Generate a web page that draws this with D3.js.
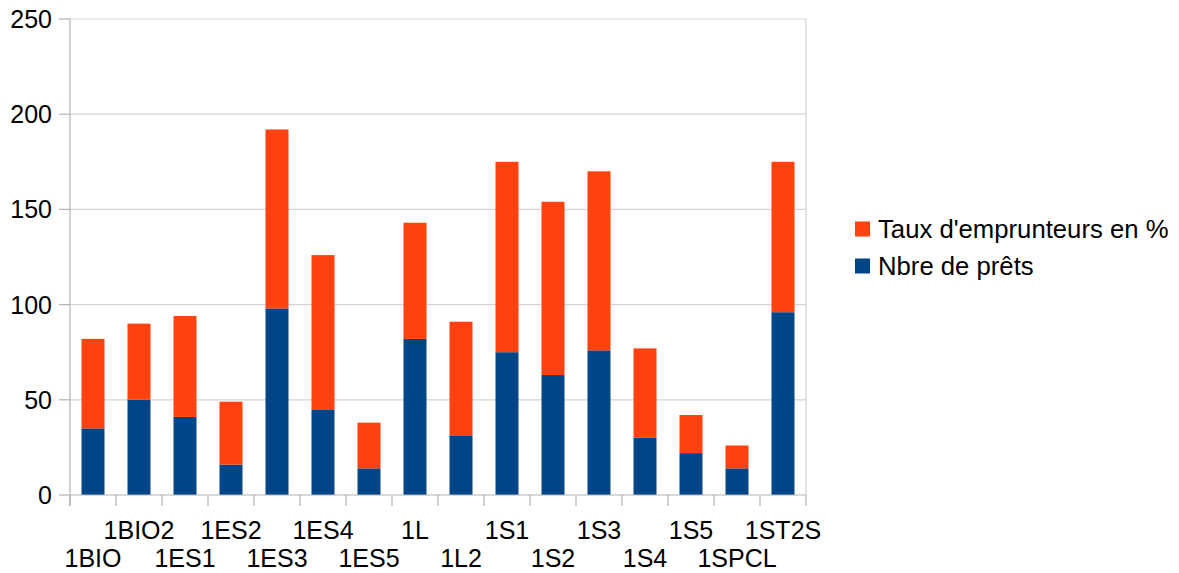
<!DOCTYPE html>
<html>
<head>
<meta charset="utf-8">
<script src="https://cdn.jsdelivr.net/npm/d3@7"></script>
<style>
  body { margin: 0; background: #fff; }
  svg { font-family: "Liberation Sans", Arial, sans-serif; }
</style>
</head>
<body>
<svg id="chart" width="1179" height="573"></svg>
<script>
const categories = ["1BIO", "1BIO2", "1ES1", "1ES2", "1ES3", "1ES4", "1ES5", "1L",
  "1L2", "1S1", "1S2", "1S3", "1S4", "1S5", "1SPCL", "1ST2S"];
const nbrePrets = [35, 50, 41, 16, 98, 45, 14, 82, 31, 75, 63, 76, 30, 22, 14, 96];
const tauxEmprunteurs = [47, 40, 53, 33, 94, 81, 24, 61, 60, 100, 91, 94, 47, 20, 12, 79];
const yTicks = [0, 50, 100, 150, 200, 250];
const seriesNames = ["Taux d'emprunteurs en %", "Nbre de prêts"];

const blue = "#004586", orange = "#ff420e";
const axisColor = "#b3b3b3", gridColor = "#d4d4d4";

const svg = d3.select("#chart");
const plotL = 70, plotR = 806, plotT = 19, plotB = 495;
const fontSize = 25;

const x = d3.scaleBand().domain(categories).range([plotL, plotR]);
const y = d3.scaleLinear().domain([0, 250]).range([plotB, plotT]);

// gridlines
svg.append("g").selectAll("line")
  .data(yTicks.filter(d => d > 0))
  .join("line")
  .attr("x1", plotL).attr("x2", plotR)
  .attr("y1", d => y(d)).attr("y2", d => y(d))
  .attr("stroke", gridColor).attr("stroke-width", 1.2);

// right border
svg.append("line")
  .attr("x1", plotR).attr("x2", plotR).attr("y1", plotT).attr("y2", plotB)
  .attr("stroke", gridColor).attr("stroke-width", 1.2);

// bars
const rows = categories.map((c, i) => ({ cat: c, blue: nbrePrets[i], orange: tauxEmprunteurs[i] }));
const barW = x.bandwidth() * 0.5;
const bars = svg.append("g");
bars.selectAll(".b").data(rows).join("rect")
  .attr("class", "b")
  .attr("x", d => x(d.cat) + (x.bandwidth() - barW) / 2)
  .attr("width", barW)
  .attr("y", d => y(d.blue))
  .attr("height", d => y(0) - y(d.blue))
  .attr("fill", blue);
bars.selectAll(".o").data(rows).join("rect")
  .attr("class", "o")
  .attr("x", d => x(d.cat) + (x.bandwidth() - barW) / 2)
  .attr("width", barW)
  .attr("y", d => y(d.blue + d.orange))
  .attr("height", d => y(d.blue) - y(d.blue + d.orange))
  .attr("fill", orange);

// y axis
const yAxis = svg.append("g");
yAxis.append("line")
  .attr("x1", plotL).attr("x2", plotL).attr("y1", plotT).attr("y2", plotB + 11)
  .attr("stroke", axisColor).attr("stroke-width", 1.2);
yAxis.selectAll(".t").data(yTicks).join("line")
  .attr("class", "t")
  .attr("x1", plotL - 11).attr("x2", plotL)
  .attr("y1", d => y(d)).attr("y2", d => y(d))
  .attr("stroke", axisColor).attr("stroke-width", 1.2);
yAxis.selectAll("text").data(yTicks).join("text")
  .attr("x", 52).attr("y", d => y(d))
  .attr("dy", "0.36em")
  .attr("text-anchor", "end")
  .attr("font-size", fontSize)
  .attr("fill", "#000")
  .text(d => d);

// x axis
const xAxis = svg.append("g");
xAxis.append("line")
  .attr("x1", plotL).attr("x2", plotR).attr("y1", plotB).attr("y2", plotB)
  .attr("stroke", axisColor).attr("stroke-width", 1.2);
const bounds = categories.map(c => x(c)).concat([plotR]);
xAxis.selectAll(".t").data(bounds).join("line")
  .attr("class", "t")
  .attr("x1", d => d).attr("x2", d => d)
  .attr("y1", plotB).attr("y2", plotB + 11)
  .attr("stroke", axisColor).attr("stroke-width", 1.2);
xAxis.selectAll("text").data(categories).join("text")
  .attr("x", d => x(d) + x.bandwidth() / 2)
  .attr("y", (d, i) => i % 2 ? 530 : 558)
  .attr("dy", "0.36em")
  .attr("text-anchor", "middle")
  .attr("font-size", fontSize)
  .attr("fill", "#000")
  .text(d => d);

// legend
const legend = svg.append("g");
const legendColors = [orange, blue];
seriesNames.forEach((name, i) => {
  const cy = 229 + i * 37;
  legend.append("rect")
    .attr("x", 855).attr("y", cy - 7.5).attr("width", 15).attr("height", 15)
    .attr("fill", legendColors[i]);
  legend.append("text")
    .attr("x", 878).attr("y", cy).attr("dy", "0.36em")
    .attr("font-size", 25.7).attr("fill", "#000")
    .text(name);
});
</script>
</body>
</html>
